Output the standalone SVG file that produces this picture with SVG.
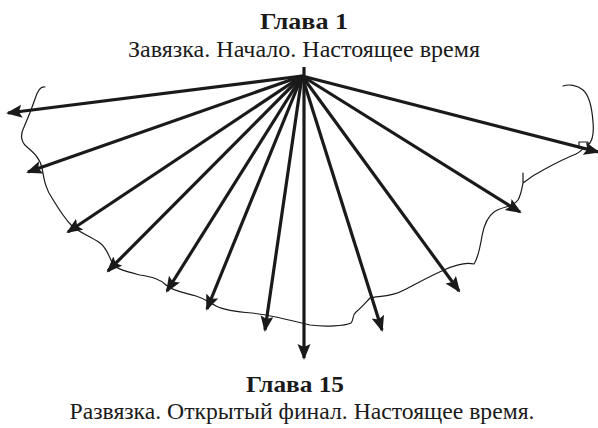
<svg xmlns="http://www.w3.org/2000/svg" width="598" height="428" viewBox="0 0 598 428">
<style>
.t{font-family:"Liberation Serif","Times New Roman",serif;fill:#1a1a1a;text-anchor:middle}
.h{font-weight:bold;font-size:24px}
.s{font-size:24px}
.a{stroke:#1a1a1a;stroke-width:3.2;fill:none;marker-end:url(#ah)}
.w{stroke:#1a1a1a;stroke-width:1.2;fill:none;stroke-linejoin:round;stroke-linecap:round}
</style>
<defs>
<marker id="ah" markerUnits="userSpaceOnUse" markerWidth="20" markerHeight="14" refX="14" refY="6.5" orient="auto">
<path d="M0,0 L16,6.5 L0,13 L3,6.5 z" fill="#1a1a1a"/>
</marker>
</defs>
<rect width="598" height="428" fill="#fff"/>
<g id="boundary">
<path class="w" d="M45,87 C40,86 37,92 35,99 C32,108 28,118 24,127 C20,135 21,142 27,147 C33,152 40,158 42,168 C44,178 45,188 52,198 C58,208 64,218 72,226 C80,233 92,237 100,243 C108,249 109,258 113,264 C118,270 128,272 140,275 C152,277 160,279 166,285 C172,291 186,293 196,296 C206,299 210,303 216,306 C224,310 238,312 252,313 C270,315 290,320 310,325 C325,327 345,326 351,323 C354,320 352,315 356,312 C362,307 366,302 370,298 C378,296 392,297 404,290 C416,284 430,276 444,270 C455,265 466,262 474,264 C478,258 480,248 482,236 C484,225 487,217 494,212 C502,206 512,208 518,200 C521,195 522,188 523,183 M523,173 L523,183 C528,179 535,174 545,169 C556,163 566,158 576,154 C580,152 582,150 583,148 M579,142 h9 v6 h-9 z M588,145 C593,141 594,133 593,122 C592,108 590,96 583,90 C577,85 569,84 563,86"/>
</g>
<g id="connectors">
<line class="a" x1="302" y1="76" x2="8" y2="113"/>
<line class="a" x1="302" y1="76" x2="28" y2="172"/>
<line class="a" x1="302" y1="76" x2="68" y2="232"/>
<line class="a" x1="302" y1="76" x2="108" y2="271"/>
<line class="a" x1="302" y1="76" x2="167" y2="291"/>
<line class="a" x1="302" y1="76" x2="207" y2="309"/>
<line class="a" x1="302" y1="76" x2="265" y2="330"/>
<line class="a" x1="304" y1="67" x2="304" y2="358"/>
<line class="a" x1="302" y1="76" x2="382" y2="330"/>
<line class="a" x1="302" y1="76" x2="459" y2="291"/>
<line class="a" x1="302" y1="76" x2="520" y2="212"/>
<line class="a" x1="302" y1="76" x2="598" y2="152"/>
</g>
<g id="top">
<text class="t h" x="304" y="29" textLength="88" lengthAdjust="spacingAndGlyphs">Глава 1</text>
<text class="t s" x="304" y="57" textLength="352" lengthAdjust="spacingAndGlyphs">Завязка. Начало. Настоящее время</text>
</g>
<g id="bottom">
<text class="t h" x="295" y="392" textLength="98" lengthAdjust="spacingAndGlyphs">Глава 15</text>
<text class="t s" x="302" y="419" textLength="465" lengthAdjust="spacingAndGlyphs">Развязка. Открытый финал. Настоящее время.</text>
</g>
</svg>
